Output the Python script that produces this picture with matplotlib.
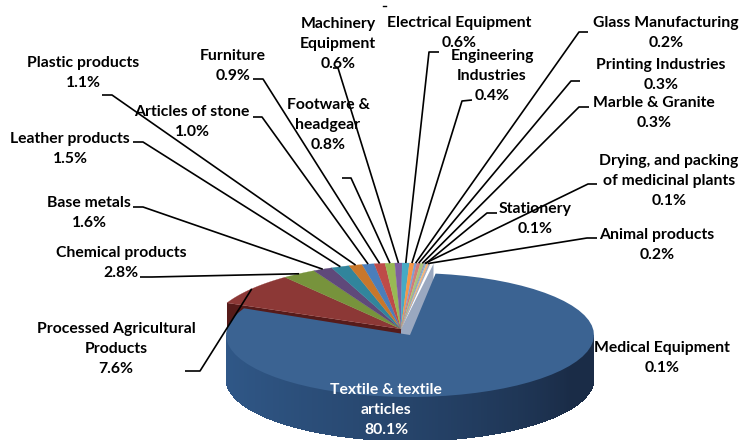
import numpy as np
import matplotlib.pyplot as plt
from matplotlib.patches import Polygon

plt.rcParams['font.family'] = ['Lato', 'DejaVu Sans']

# Shares in percent, clockwise from the first slice
labels = ['Textile & textile\narticles', 'Processed Agricultural\nProducts', 'Chemical products',
          'Base metals', 'Leather products', 'Plastic products', 'Articles of stone', 'Furniture',
          'Footware &\nheadgear', 'Machinery\nEquipment', 'Electrical Equipment', 'Engineering\nIndustries',
          'Glass Manufacturing', 'Printing Industries', 'Marble & Granite',
          'Drying, and packing\nof medicinal plants', 'Stationery', 'Animal products', 'Medical Equipment']
values = [80.1, 7.6, 2.8, 1.6, 1.5, 1.1, 1.0, 0.9, 0.8, 0.6, 0.6, 0.4, 0.2, 0.3, 0.3, 0.1, 0.1, 0.2, 0.1]

# Slice colours
colors = ['#3b6392', '#8c3836', '#77933c', '#5f497a', '#31859c', '#c8772b', '#4a7ebb', '#be4b48',
          '#98b954', '#7d5fa0', '#46aac5', '#f79646', '#7d9fd3', '#d27a78', '#a9c47a', '#9a86b8',
          '#6fbdd1', '#f5b27a', '#9aa8c0']

# Label centres in pixels
label_x = [386, 116, 121, 89, 70, 83, 192, 233, 328, 338, 459, 492, 666, 661, 654, 669, 535, 657, 662]
label_y = [410, 349, 263, 213, 149, 73, 122, 66, 125, 44, 33, 76, 33, 75, 113, 181, 219, 245, 358]

# Leader line start and elbow, None means no leader
leaders = [None, [(185, 371), (200, 371)], [(140, 277), (152, 277)], [(133, 207), (143, 207)],
           [(133, 142), (143, 142)], [(102, 95), (112, 95)], [(253, 117), (262, 117)],
           [(253, 79), (263, 79)], [(342, 178), (351, 178)], [(333, 68), (338, 68)],
           [(439, 52), (429, 52)], [(472, 100), (462, 101)], [(588, 32), (579, 32)],
           [(580, 81), (571, 81)], [(589, 107), (579, 107)], [(597, 184), (588, 184)],
           [(497, 213), (487, 213)], [(597, 238), (587, 238)], None]

depth = 44


def rim(cx, cy, rx, ry, t):
    t = np.radians(t)
    return np.column_stack([cx + rx * np.cos(t), cy - ry * np.sin(t)])


def wedge(apex, cx, cy, rx, ry, t1, t2):
    return np.vstack([apex, rim(cx, cy, rx, ry, np.linspace(t1, t2, 60))])


fig = plt.figure(figsize=(7.42, 4.4), dpi=100)
ax = fig.add_axes([0, 0, 1, 1])
ax.set_xlim(0, 742)
ax.set_ylim(440, 0)
ax.axis('off')

angles = 82 - np.concatenate([[0], np.cumsum(values)]) * 360 / sum(values)

# the small slices sit a bit apart from the big one
cx, cy, rx, ry = 403, 333, 195, 70
apex = (401, 329)
a1 = rim(cx, cy, rx, ry, [angles[1]])[0]
a2 = rim(cx, cy, rx, ry, [81])[0]

# cut faces of the small slices
ax.add_patch(Polygon([apex, a1, a1 + [0, depth], (apex[0], apex[1] + depth)], color='#561b1a', lw=0))
ax.add_patch(Polygon([apex, a2, a2 + [0, depth], (apex[0], apex[1] + depth)], color='#9aa8c0', lw=0))

for i in range(1, len(values)):
    ax.add_patch(Polygon(wedge(apex, cx, cy, rx, ry, angles[i], angles[i + 1]), color=colors[i], lw=0.2))

# big slice, wall first with a shade going darker to the right
bx, by, brx, bry = 410, 335, 184, 62
ts = np.linspace(180, 360, 181)
c_left = np.array([0x30, 0x58, 0x88]) / 255
c_right = np.array([0x1a, 0x2c, 0x47]) / 255
for k in range(len(ts) - 1):
    # overlap the strips by one step so no seams show
    p = rim(bx, by, brx, bry, ts[k:k + 3])
    f = min(1, k / 150) ** 1.5
    ax.add_patch(Polygon([p[0], p[-1], p[-1] + [0, depth], p[0] + [0, depth]],
                         facecolor=c_left + (c_right - c_left) * f, edgecolor='none', antialiased=False))
ax.add_patch(Polygon(wedge((bx, by), bx, by, brx, bry, angles[0], angles[1]), color=colors[0], lw=0))

# leaders
for i, leader in enumerate(leaders):
    if leader is None:
        continue
    mid = (angles[i] + angles[i + 1]) / 2
    end = rim(cx, cy, rx, ry, [mid])[0]
    xs = [leader[0][0], leader[1][0], end[0]]
    ys = [leader[0][1], leader[1][1], end[1]]
    ax.plot(xs, ys, color='black', lw=1.2, solid_capstyle='butt')

ax.plot([383, 386], [6, 6], color='black', lw=1.0)

# labels
for i in range(len(labels)):
    txt = labels[i] + '\n' + f'{values[i]:.1f}%'
    ax.text(label_x[i], label_y[i], txt, ha='center', va='center', multialignment='center',
            fontsize=11.3, fontweight='bold', linespacing=1.52,
            color='white' if i == 0 else 'black')

fig.savefig('out.png', dpi=100)
